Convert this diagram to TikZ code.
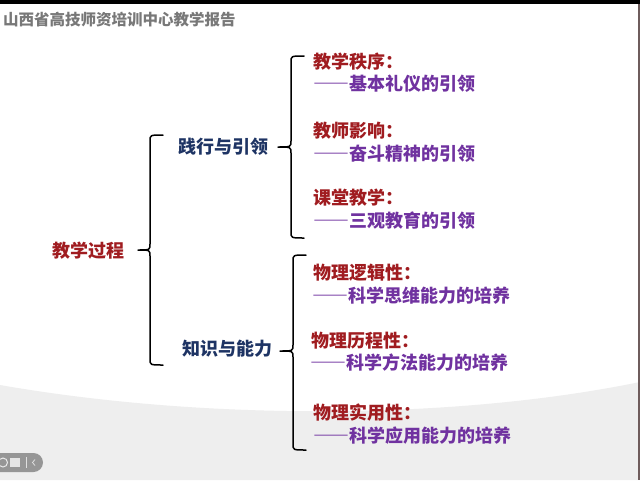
\documentclass[tikz,border=0pt]{standalone}
\usepackage{fontspec}
\setmainfont{Noto Sans CJK SC}
\newfontfamily\cjk[RawFeature=+fwid]{Noto Sans CJK SC}
\definecolor{hdrgray}{RGB}{120,120,120}
\definecolor{lblred}{RGB}{160,28,32}
\definecolor{lblnavy}{RGB}{30,52,100}
\definecolor{lblpurple}{RGB}{112,50,160}
\definecolor{bggray}{RGB}{238,238,238}
\definecolor{edgebrown}{RGB}{110,92,92}
\definecolor{pillgray}{RGB}{150,150,150}
\tikzset{
  txt/.style={anchor=west, inner sep=0pt, outer sep=0pt, text height=16pt, text depth=2pt, font=\cjk\bfseries\fontsize{18}{20}\selectfont},
  redt/.style={txt, text=lblred},
  navyt/.style={txt, text=lblnavy},
  purt/.style={txt, text=lblpurple},
  bracepath/.style={draw=black, line width=1.5pt, line join=round, line cap=round},
}
\begin{document}
\begin{tikzpicture}[x=1pt,y=-1pt]
\useasboundingbox (0,0) rectangle (640,480);
% background
\fill[white] (0,0) rectangle (640,480);
\fill[bggray] (0,385) .. controls (200,420) and (450,421) .. (640,382) -- (640,480) -- (0,480) -- cycle;
\fill[black] (0,0) rectangle (640,4);
\fill[edgebrown] (637.5,4) rectangle (640,480);
% header
\node[anchor=west, inner sep=0pt, text=hdrgray, text height=14pt, text depth=2pt, font=\cjk\bfseries\fontsize{15.5}{18}\selectfont] (hdr) at (3,19) {山西省高技师资培训中心教学报告};
% UI pill
\fill[pillgray, rounded corners=9.5pt] (-12,453) rectangle (43,472);
\draw[white!80!pillgray, line width=1pt] (3,462.5) circle (4.5);
\fill[white!75!pillgray] (10,458) rectangle (20,467);
\draw[white!70!pillgray, line width=0.6pt] (26,457) -- (26,468);
\draw[white!70!pillgray, line width=0.8pt] (35,459.5) -- (32.5,462.5) -- (35,465.5);
% main labels
\node[redt] (root) at (52,250) {教学过程};
\node[navyt] (g1) at (178,146) {践行与引领};
\node[navyt] (g2) at (182,348) {知识与能力};
% big brace
\draw[bracepath] (163,135) .. controls (150,135) .. (150,141) -- (150,244) .. controls (150,250) .. (138,250) .. controls (150,250) .. (150,256) -- (150,359) .. controls (150,365) .. (163,365);
% brace 1
\draw[bracepath] (304,56) .. controls (291,56) .. (291,62) -- (291,141) .. controls (291,147) .. (278,147) .. controls (291,147) .. (291,153) -- (291,232) .. controls (291,238) .. (304,238);
% brace 2
\draw[bracepath] (306,255) .. controls (293,255) .. (293,261) -- (293,345) .. controls (293,351) .. (280,351) .. controls (293,351) .. (293,357) -- (293,444) .. controls (293,450) .. (306,450);
% top group
\node[redt] (a1) at (313,61) {教学秩序：};
\node[purt] (a1s) at (313,83) {——基本礼仪的引领};
\node[redt] (a2) at (313,130) {教师影响：};
\node[purt] (a2s) at (313,153) {——奋斗精神的引领};
\node[redt] (a3) at (313,197) {课堂教学：};
\node[purt] (a3s) at (313,220) {——三观教育的引领};
% bottom group
\node[redt] (b1) at (313,272) {物理逻辑性：};
\node[purt] (b1s) at (312,295) {——科学思维能力的培养};
\node[redt] (b2) at (311,340) {物理历程性：};
\node[purt] (b2s) at (310,362) {——科学方法能力的培养};
\node[redt] (b3) at (313,412) {物理实用性：};
\node[purt] (b3s) at (313,435) {——科学应用能力的培养};
\end{tikzpicture}
\end{document}
